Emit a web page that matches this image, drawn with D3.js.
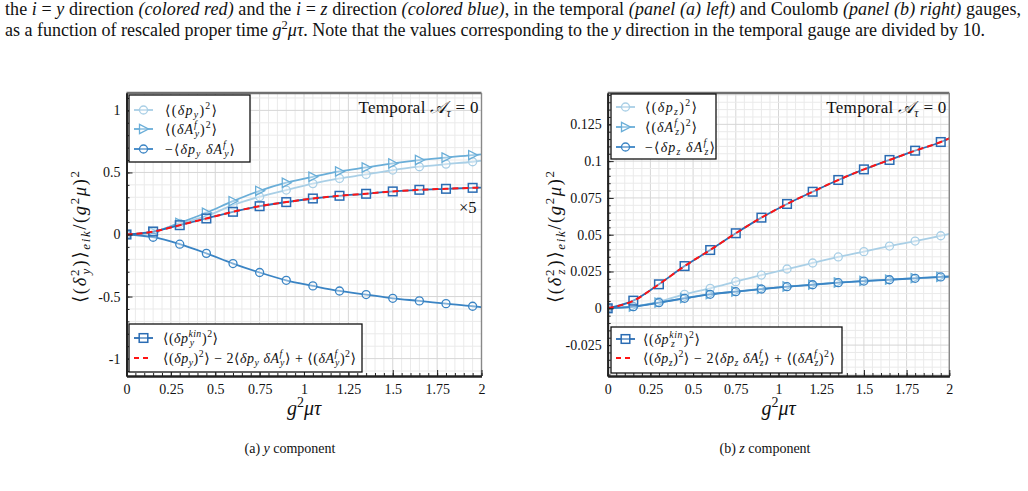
<!DOCTYPE html>
<html><head><meta charset="utf-8">
<script src="https://cdn.jsdelivr.net/npm/d3@7"></script>
<style>
body{margin:0;background:#fff}
svg{display:block}
text{font-family:"Liberation Serif","DejaVu Serif",serif;fill:#111}
</style>
</head><body>
<svg id="c" width="1028" height="491"></svg>
<script>
// ---------------- DATA ----------------
const tau = [0,0.15,0.3,0.45,0.6,0.75,0.9,1.05,1.2,1.35,1.5,1.65,1.8,1.95,2.0];
const nMarkers = 14; // markers at the first 14 tau values, the line continues to 2

// (a) y component, temporal gauge
const yDpSq     = [0,0.020,0.089,0.148,0.237,0.304,0.358,0.410,0.452,0.484,0.519,0.546,0.567,0.586,0.594];
const yDASq     = [0,0.020,0.094,0.175,0.269,0.352,0.417,0.465,0.508,0.540,0.573,0.600,0.620,0.640,0.645];
const yNegCross = [0,-0.022,-0.078,-0.152,-0.234,-0.306,-0.369,-0.414,-0.455,-0.484,-0.514,-0.535,-0.557,-0.578,-0.586];
const yKin      = [0,0.024,0.075,0.129,0.183,0.228,0.261,0.290,0.312,0.328,0.347,0.360,0.368,0.376,0.378];
const yCombo    = [0,0.023,0.075,0.129,0.183,0.228,0.261,0.290,0.312,0.329,0.347,0.360,0.368,0.376,0.379];

// (b) z component
const zDpSq     = [0,0.0011,0.0045,0.0095,0.0136,0.0181,0.0226,0.0267,0.0308,0.0349,0.0385,0.0423,0.0457,0.0493,0.0505];
const zDASq     = [0,0.0012,0.0039,0.0069,0.0096,0.0114,0.0132,0.0148,0.0161,0.0175,0.0186,0.0195,0.0205,0.0214,0.0216];
const zNegCross = [0,0.0011,0.0038,0.0068,0.0095,0.0113,0.0131,0.0147,0.0160,0.0174,0.0185,0.0194,0.0204,0.0213,0.0215];
const zKin      = [0,0.0052,0.0163,0.0287,0.0396,0.0510,0.0616,0.0709,0.0792,0.0872,0.0944,0.1008,0.1071,0.1130,0.1155];
const zCombo    = [0,0.0051,0.0163,0.0287,0.0396,0.0510,0.0616,0.0709,0.0792,0.0872,0.0944,0.1008,0.1071,0.1130,0.1155];

const xTicks = [0,0.25,0.5,0.75,1,1.25,1.5,1.75,2];
const xTickLabels = ["0","0.25","0.5","0.75","1","1.25","1.5","1.75","2"];
const yTicksA = [-1,-0.5,0,0.5,1];
const yTickLabelsA = ["-1","-0.5","0","0.5","1"];
const yTicksB = [-0.025,0,0.025,0.05,0.075,0.1,0.125];
const yTickLabelsB = ["-0.025","0","0.025","0.05","0.075","0.1","0.125"];

const captionLine1 = "the *i* = *y* direction *(colored red)* and the *i* = *z* direction *(colored blue)*, in the temporal *(panel (a) left)* and Coulomb *(panel (b) right)* gauges,";
const captionLine2 = "as a function of rescaled proper time *g*^{2}*μτ*. Note that the values corresponding to the *y* direction in the temporal gauge are divided by 10.";

// ---------------- STYLE ----------------
const C = {light:"#a9cfe6", mid:"#6aaed8", dark:"#3a84c4", sq:"#2a6cb3", red:"#ff1414"};

const svg = d3.select("#c");

// rich text helper: _{sub}, ^{sup}, _^{sub}{sup} stacked; auto-italic letters or *...* toggles
const RE = /_\^\{([^}]*)\}\{([^}]*)\}|_\{([^}]*)\}|\^\{([^}]*)\}|([^_^]+)/g;
function rich(textSel, markup, fs, auto, fitWidth){
  let cur = 0, ital = false, pendDx = 0;
  function runs(str, size, dy, dx){
    const parts = [];
    for (const ch of str){
      if(!auto && ch === '*'){ ital = !ital; continue; }
      const it = auto ? /[A-Za-zδμτ𝒜]/u.test(ch) : ital;
      if(parts.length && parts[parts.length-1].it === it) parts[parts.length-1].s += ch;
      else parts.push({s:ch, it});
    }
    let w = 0, first = true;
    parts.forEach(p => {
      const ts = textSel.append("tspan").text(p.s).attr("font-size", size)
        .attr("font-style", p.it ? "italic" : "normal");
      if(first){
        if(dy) ts.attr("dy", dy);
        const ddx = dx + pendDx; pendDx = 0;
        if(ddx) ts.attr("dx", ddx);
        first = false;
      }
      w += ts.node().getComputedTextLength();
    });
    return w;
  }
  for (const m of markup.matchAll(RE)){
    if(m[1] !== undefined){
      const o1 = -0.4*fs; const wsup = runs(m[2], fs*0.7, o1-cur, 0); cur = o1;
      const o2 = 0.24*fs; const wsub = runs(m[1], fs*0.7, o2-cur, -wsup); cur = o2;
      if(wsup > wsub) pendDx = wsup - wsub;
    } else if(m[3] !== undefined){
      const o = 0.24*fs; runs(m[3], fs*0.7, o-cur, 0); cur = o;
    } else if(m[4] !== undefined){
      const o = -0.4*fs; runs(m[4], fs*0.7, o-cur, 0); cur = o;
    } else {
      runs(m[5], fs, -cur, 0); cur = 0;
    }
  }
  if(fitWidth) textSel.attr("textLength", fitWidth).attr("lengthAdjust", "spacing");
  return textSel;
}

// ---------------- CAPTIONS ----------------
rich(svg.append("text").attr("x",5).attr("y",15), captionLine1, 18, false, 1016);
rich(svg.append("text").attr("x",5).attr("y",36), captionLine2, 18, false, 980);

// ---------------- PANELS ----------------
function marker(g, type, color, x, y){
  if(type === "circle") g.append("circle").attr("cx",x).attr("cy",y).attr("r",4)
      .attr("fill","rgba(255,255,255,0.35)").attr("stroke",color).attr("stroke-width",1.3);
  else if(type === "tri") g.append("path").attr("d",`M${x-4},${y-4.6}L${x+5},${y}L${x-4},${y+4.6}Z`)
      .attr("fill","rgba(255,255,255,0.35)").attr("stroke",color).attr("stroke-width",1.3);
  else if(type === "sq") g.append("rect").attr("x",x-4.3).attr("y",y-4.3).attr("width",8.6).attr("height",8.6)
      .attr("fill","rgba(255,255,255,0.35)").attr("stroke",color).attr("stroke-width",1.5);
}

function panel(cfg){
  const top = 93, bot = 376;
  const x = d3.scaleLinear().domain([0,2]).range([cfg.x0, cfg.x1]);
  const y = d3.scaleLinear().domain(cfg.ydom).range([bot, top]);
  const g = svg.append("g");
  const clipId = "clip" + cfg.id;
  svg.append("clipPath").attr("id", clipId).append("rect")
    .attr("x",cfg.x0).attr("y",top).attr("width",cfg.x1-cfg.x0).attr("height",bot-top);

  // grid
  const grid = g.append("g");
  const xMinor = d3.range(0, 2.0001, 0.05);
  const yMinor = d3.range(Math.ceil(cfg.ydom[0]/cfg.yMinor)*cfg.yMinor, cfg.ydom[1], cfg.yMinor);
  grid.selectAll(".vx").data(xMinor).join("line")
    .attr("x1",d=>x(d)).attr("x2",d=>x(d)).attr("y1",top).attr("y2",bot)
    .attr("stroke",(d)=> Math.abs(d/0.25 - Math.round(d/0.25))<1e-6 ? "#d6d6d6" : "#eaeaea").attr("stroke-width",1);
  grid.selectAll(".hy").data(yMinor).join("line")
    .attr("y1",d=>y(d)).attr("y2",d=>y(d)).attr("x1",cfg.x0).attr("x2",cfg.x1)
    .attr("stroke",(d)=> Math.abs(d/cfg.yMajor - Math.round(d/cfg.yMajor))<1e-6 ? "#d6d6d6" : "#eaeaea").attr("stroke-width",1);

  // series
  const plot = g.append("g").attr("clip-path",`url(#${clipId})`);
  const line = d3.line().x((d,i)=>x(tau[i])).y(d=>y(d)).curve(d3.curveMonotoneX);
  cfg.series.forEach(s => {
    plot.append("path").attr("d", line(s.values)).attr("fill","none")
      .attr("stroke", s.color).attr("stroke-width", s.dash ? 2 : 1.8)
      .attr("stroke-dasharray", s.dash ? "6,4" : null);
    if(s.marker){
      const mg = plot.append("g");
      s.values.slice(0, nMarkers).forEach((v,i) => marker(mg, s.marker, s.color, x(tau[i]), y(v)));
    }
  });

  // frame
  g.append("line").attr("x1",cfg.x0).attr("x2",cfg.x1).attr("y1",top).attr("y2",top).attr("stroke","#707070").attr("stroke-width",2.4);
  g.append("line").attr("x1",cfg.x1).attr("x2",cfg.x1).attr("y1",top).attr("y2",bot).attr("stroke","#888").attr("stroke-width",1.4);

  // axes
  g.append("g").attr("transform",`translate(0,${bot})`)
    .call(d3.axisBottom(x).tickValues(xTicks).tickFormat((d,i)=>xTickLabels[i]).tickSizeInner(-6).tickSizeOuter(0).tickPadding(8));
  g.append("g").attr("transform",`translate(0,${bot})`)
    .call(d3.axisBottom(x).tickValues(xMinor).tickFormat("").tickSizeInner(-3).tickSizeOuter(0));
  g.append("g").attr("transform",`translate(${cfg.x0},0)`)
    .call(d3.axisLeft(y).tickValues(cfg.yTicks).tickFormat((d,i)=>cfg.yTickLabels[i]).tickSizeInner(-6).tickSizeOuter(0).tickPadding(6));
  g.append("g").attr("transform",`translate(${cfg.x0},0)`)
    .call(d3.axisLeft(y).tickValues(yMinor).tickFormat("").tickSizeInner(-3).tickSizeOuter(0));
  g.selectAll(".domain").attr("stroke","#222").attr("stroke-width",1.8);
  g.selectAll(".tick line").attr("stroke","#222").attr("stroke-width",1);
  g.selectAll(".tick text").attr("font-size",14).attr("fill","#111");

  // legends
  function legend(L){
    const lg = g.append("g");
    lg.append("rect").attr("x",L.x).attr("y",L.y).attr("width",L.w).attr("height",L.h)
      .attr("fill","#fff").attr("stroke","#111").attr("stroke-width",1.3);
    L.items.forEach((it,i) => {
      const cy = L.rows[i];
      const s = it.s;
      lg.append("line").attr("x1",L.x+5).attr("x2",L.x+(s.dash?20:24)).attr("y1",cy).attr("y2",cy)
        .attr("stroke",s.color).attr("stroke-width",s.dash?2:1.8).attr("stroke-dasharray",s.dash?"5,4":null);
      if(s.marker) marker(lg, s.marker, s.color, L.x+14.5, cy);
      rich(lg.append("text").attr("x",L.x+L.tx).attr("y",cy+5), it.label, 14, true, it.w);
    });
  }
  cfg.legends.forEach(legend);

  // annotations
  rich(g.append("text").attr("x",cfg.x1-3).attr("y",113).attr("text-anchor","end"), "Temporal *𝒜*_{*τ*} = 0", 17, false, 120);
  if(cfg.times) g.append("text").attr("x",cfg.x1-5).attr("y",213).attr("text-anchor","end").attr("font-size",16.5).text(cfg.times);

  // axis labels
  rich(g.append("text").attr("x",(cfg.x0+cfg.x1)/2).attr("y",415).attr("text-anchor","middle"), "g^{2}μτ", 20, true);
  rich(g.append("text").attr("transform",`translate(${cfg.ylabX},${237}) rotate(-90)`).attr("text-anchor","middle"),
       cfg.ylab, 18.5, true, 132);
  rich(g.append("text").attr("x",cfg.capX).attr("y",453).attr("text-anchor","middle"), cfg.caption, 14, false);
}

// panel (a)
const aS = {
  dp:{values:yDpSq, color:C.light, marker:"circle"},
  da:{values:yDASq, color:C.mid, marker:"tri"},
  nc:{values:yNegCross, color:C.dark, marker:"circle"},
  kin:{values:yKin, color:C.sq, marker:"sq"},
  co:{values:yCombo, color:C.red, dash:true}
};
panel({
  id:"a", x0:126.5, x1:481.5, ydom:[-1.14,1.14], yMinor:0.1, yMajor:0.5,
  yTicks:yTicksA, yTickLabels:yTickLabelsA,
  series:[aS.dp, aS.da, aS.nc, aS.kin, aS.co],
  legends:[
    {x:129, y:95, w:121, h:67, tx:36, rows:[110,129,149], items:[
      {s:aS.dp, label:"⟨(δp_{y})^{2}⟩", w:52},
      {s:aS.da, label:"⟨(δA_^{y}{f})^{2}⟩", w:52},
      {s:aS.nc, label:"−⟨δp_{y} δA_^{y}{f}⟩", w:70}]},
    {x:129, y:324, w:233, h:48, tx:34, rows:[338,358], items:[
      {s:aS.kin, label:"⟨(δp_^{y}{kin})^{2}⟩", w:55},
      {s:aS.co, label:"⟨(δp_{y})^{2}⟩ − 2⟨δp_{y} δA_^{y}{f}⟩ + ⟨(δA_^{y}{f})^{2}⟩", w:193}]}
  ],
  times:"×5",
  ylab:"⟨(δ_^{y}{2})⟩_{eik}/(g^{2}μ)^{2}", ylabX:86,
  caption:"(a) *y* component", capX:290
});

// panel (b)
const bS = {
  dp:{values:zDpSq, color:C.light, marker:"circle"},
  da:{values:zDASq, color:C.mid, marker:"tri"},
  nc:{values:zNegCross, color:C.dark, marker:"circle"},
  kin:{values:zKin, color:C.sq, marker:"sq"},
  co:{values:zCombo, color:C.red, dash:true}
};
panel({
  id:"b", x0:607.7, x1:949.3, ydom:[-0.046,0.1463], yMinor:0.005, yMajor:0.025,
  yTicks:yTicksB, yTickLabels:yTickLabelsB,
  series:[bS.dp, bS.da, bS.nc, bS.kin, bS.co],
  legends:[
    {x:611, y:94, w:105, h:65, tx:34, rows:[107,127,147], items:[
      {s:bS.dp, label:"⟨(δp_{z})^{2}⟩", w:52},
      {s:bS.da, label:"⟨(δA_^{z}{f})^{2}⟩", w:52},
      {s:bS.nc, label:"−⟨δp_{z} δA_^{z}{f}⟩", w:70}]},
    {x:611, y:327, w:231, h:46, tx:32, rows:[339,358], items:[
      {s:bS.kin, label:"⟨(δp_^{z}{kin})^{2}⟩", w:57},
      {s:bS.co, label:"⟨(δp_{z})^{2}⟩ − 2⟨δp_{z} δA_^{z}{f}⟩ + ⟨(δA_^{z}{f})^{2}⟩", w:192}]}
  ],
  times:null,
  ylab:"⟨(δ_^{z}{2})⟩_{eik}/(g^{2}μ)^{2}", ylabX:561,
  caption:"(b) *z* component", capX:765
});
</script>
</body></html>
